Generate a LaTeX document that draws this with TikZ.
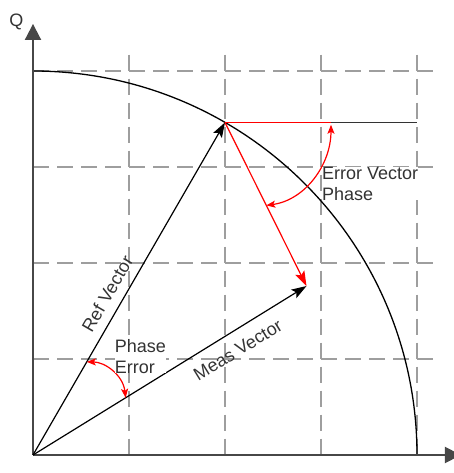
\documentclass[tikz,border=0pt]{standalone}
\usepackage{fontspec}
\setmainfont{Liberation Sans}
\usetikzlibrary{arrows.meta}
\begin{document}
\begin{tikzpicture}[x=1pt,y=1pt,
  gridline/.style={draw=black!38, line width=1.5pt, dash pattern=on 16pt off 8pt},
  axisline/.style={draw=black!72, line width=2pt, -{Triangle[length=16pt,width=16pt]}},
  vec/.style={draw=black, line width=1.2pt, -{Stealth[length=15pt,width=10pt,inset=3pt]}},
  errvec/.style={draw=red, line width=1.2pt, -{Stealth[length=15pt,width=10pt,inset=3pt]}},
  angarc/.style={draw=red, line width=1.2pt, {Stealth[length=9pt,width=7pt,inset=2pt]}-{Stealth[length=9pt,width=7pt,inset=2pt]}},
  lbl/.style={font=\fontsize{18}{21}\selectfont, text=black!80, inner sep=0pt},
]
\useasboundingbox (0,0) rectangle (453,473);
\begin{scope}[shift={(33,18)}, x=96pt, y=96pt]
  % key points
  \coordinate (O) at (0,0);
  \coordinate (P) at (2,3.4641);
  \coordinate (M) at (2.849,1.76);
  \coordinate (R) at (3.104,3.4641);
  \coordinate (Hend) at (4,3.4641);
  \coordinate (Qtip) at (0,4.49);
  \coordinate (Itip) at (4.458,0);
  \coordinate (Ctop) at (0,4);
  % grid
  \foreach \k in {1,2,3,4} {
    \draw[gridline] (\k,4.17) -- (\k,0);
    \draw[gridline] (0,\k) -- (4.17,\k);
  }
  % circle
  \draw[black, line width=1.3pt] (Ctop) arc[start angle=90, end angle=0, radius=384pt];
  % axes
  \draw[axisline] (O) -- (Qtip);
  \draw[axisline] (O) -- (Itip);
  % horizontal reference line
  \draw[black!80, line width=1.3pt] (R) -- (Hend);
  \draw[red, line width=1.3pt] (P) -- (R);
  % vectors
  \draw[vec] (O) -- (P);
  \draw[vec] (O) -- (M);
  \draw[errvec] (P) -- (M);
  % angle arcs
  \coordinate (A1s) at (3.104,3.44);
  \coordinate (A1e) at (2.43,2.60);
  \draw[angarc] (A1s) .. controls (3.104,3.021) and (2.833,2.656) .. (A1e);
  \coordinate (A2s) at (0.56,0.97);
  \coordinate (A2e) at (0.965,0.596);
  \draw[angarc] (A2s) .. controls (0.75,0.969) and (0.9375,0.833) .. (A2e);
  % labels
  \node[lbl] (qlab) at (-0.172,4.516) {Q};
  \node[lbl, rotate=60] (reflab) at (0.774,1.678) {Ref Vector};
  \node[lbl, rotate=31.66] (measlab) at (2.134,1.093) {Meas Vector};
  \node[lbl, fill=white, align=left, anchor=west] (pelab) at (0.85,1.03) {Phase\\Error};
  \node[lbl, fill=white, align=left, anchor=west] (evlab) at (3.01,2.828) {Error Vector\\Phase};
\end{scope}
\end{tikzpicture}
\end{document}
